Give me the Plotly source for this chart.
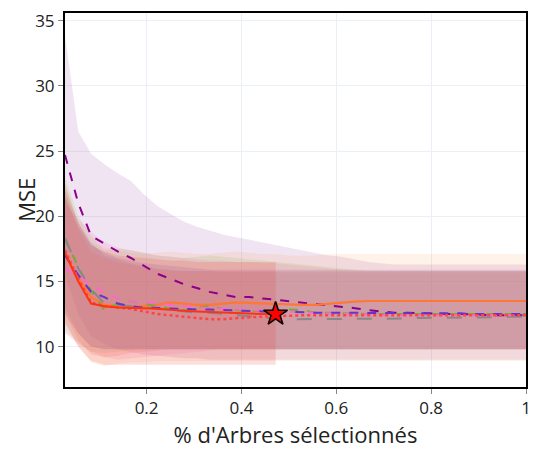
import plotly.graph_objects as go

x = [0.028, 0.056, 0.083, 0.111, 0.139, 0.167, 0.194, 0.222, 0.25, 0.278, 0.306, 0.333,
     0.361, 0.389, 0.417, 0.444, 0.472, 0.5, 0.528, 0.556, 0.583, 0.611, 0.639, 0.667,
     0.694, 0.722, 0.75, 0.778, 0.806, 0.833, 0.861, 0.889, 0.917, 0.944, 0.972, 1.0]

purple_mean = [24.7, 21.0, 18.5, 17.9, 17.3, 16.8, 16.2, 15.6, 15.2, 14.8, 14.5, 14.2,
               14.0, 13.8, 13.8, 13.7, 13.6, 13.5, 13.4, 13.3, 13.2, 13.1, 12.95, 12.8,
               12.7, 12.6, 12.6, 12.55, 12.5, 12.5, 12.5, 12.45, 12.45, 12.4, 12.4, 12.4]
purple_up = [33.9, 26.5, 24.8, 24.0, 23.3, 22.7, 21.7, 20.8, 20.2, 19.6, 19.2, 18.9,
             18.6, 18.4, 18.2, 18.0, 17.8, 17.6, 17.4, 17.2, 17.0, 16.9, 16.7, 16.5,
             16.4, 16.3, 16.3, 16.3, 16.3, 16.3, 16.3, 16.3, 16.3, 16.3, 16.3, 16.3]
purple_lo = [15.5, 12.5, 10.8, 10.2, 9.8, 9.6, 9.4, 9.3, 9.2, 9.1, 9.1, 9.0,
             9.0, 9.0, 9.0, 9.0, 9.0, 9.0, 9.0, 9.0, 9.0, 9.0, 9.0, 9.0,
             9.0, 9.0, 9.0, 9.0, 9.0, 9.0, 9.0, 9.0, 9.0, 9.0, 9.0, 9.0]

orange_mean = [17.0, 15.3, 13.8, 13.2, 13.1, 13.0, 13.1, 13.2, 13.4, 13.3, 13.2, 13.2,
               13.3, 13.4, 13.35, 13.3, 13.3, 13.25, 13.2, 13.2, 13.3, 13.4, 13.45, 13.5,
               13.5, 13.5, 13.5, 13.5, 13.5, 13.5, 13.5, 13.5, 13.5, 13.5, 13.5, 13.5]
orange_up = [22.0, 19.5, 18.0, 17.6, 17.4, 17.2, 17.1, 17.2, 17.3, 17.2, 17.1, 17.1,
             17.2, 17.3, 17.2, 17.1, 17.1, 17.0, 17.0, 17.0, 17.1, 17.1, 17.1, 17.1,
             17.1, 17.1, 17.1, 17.1, 17.1, 17.1, 17.1, 17.1, 17.1, 17.1, 17.1, 17.1]
orange_lo = [12.0, 10.0, 8.8, 8.5, 8.7, 8.8, 8.8, 8.9, 8.9, 8.9, 8.9, 8.9,
             8.9, 8.9, 8.9, 8.9, 8.9, 8.9, 8.9, 8.9, 8.9, 8.9, 8.9, 8.9,
             8.9, 8.9, 8.9, 8.9, 8.9, 8.9, 8.9, 8.9, 8.9, 8.9, 8.9, 8.9]

red_mean = [17.2, 15.0, 13.3, 13.1, 13.0, 13.0, 12.95, 12.9, 12.8, 12.75, 12.7, 12.65,
            12.6, 12.6, 12.55, 12.5, 12.5]
red_up = [22.5, 19.5, 17.8, 17.3, 17.0, 16.9, 16.8, 16.7, 16.6, 16.6, 16.5, 16.5,
          16.5, 16.5, 16.5, 16.5, 16.5]
red_lo = [11.8, 10.0, 8.9, 8.6, 8.6, 8.6, 8.6, 8.6, 8.6, 8.6, 8.6, 8.6,
          8.6, 8.6, 8.6, 8.6, 8.6]

tomato_mean = [17.4, 15.2, 13.4, 13.1, 13.0, 12.9, 12.7, 12.5, 12.4, 12.3, 12.2, 12.1,
               12.1, 12.2, 12.25, 12.3, 12.35, 12.4, 12.4, 12.4, 12.4, 12.4, 12.4, 12.4,
               12.4, 12.4, 12.4, 12.4, 12.4, 12.4, 12.4, 12.4, 12.4, 12.4, 12.4, 12.4]
tomato_up = [21.5, 19.0, 17.3, 16.8, 16.5, 16.3, 16.1, 15.9, 15.8, 15.8, 15.8, 15.8,
             15.8, 15.8, 15.8, 15.8, 15.8, 15.8, 15.8, 15.8, 15.8, 15.8, 15.8, 15.8,
             15.8, 15.8, 15.8, 15.8, 15.8, 15.8, 15.8, 15.8, 15.8, 15.8, 15.8, 15.8]
tomato_lo = [12.5, 10.5, 9.4, 9.2, 9.3, 9.5, 9.6, 9.7, 9.8, 9.8, 9.8, 9.8,
             9.8, 9.8, 9.8, 9.8, 9.8, 9.8, 9.8, 9.8, 9.8, 9.8, 9.8, 9.8,
             9.8, 9.8, 9.8, 9.8, 9.8, 9.8, 9.8, 9.8, 9.8, 9.8, 9.8, 9.8]

green_mean = [18.3, 16.1, 14.3, 12.8, 13.3, 13.5, 13.3, 13.1, 12.9, 12.8, 13.0, 13.1,
              12.9, 12.8, 12.7, 12.75, 12.8, 12.85, 12.8, 12.6, 12.6, 12.55, 12.55, 12.5,
              12.5, 12.5, 12.5, 12.5, 12.5, 12.5, 12.5, 12.5, 12.5, 12.5, 12.5, 12.5]
green_up = [23.0, 20.0, 18.5, 17.4, 17.5, 17.4, 17.2, 17.0, 16.9, 16.8, 16.9, 17.0,
            16.9, 16.8, 16.7, 16.6, 16.5, 16.4, 16.3, 16.2, 16.1, 16.0, 15.9, 15.8,
            15.8, 15.8, 15.8, 15.8, 15.8, 15.8, 15.8, 15.8, 15.8, 15.8, 15.8, 15.8]
green_lo = [11.2, 10.3, 9.6, 9.5, 9.6, 9.7, 9.8, 9.8, 9.8, 9.8, 9.8, 9.8,
            9.8, 9.8, 9.8, 9.8, 9.8, 9.8, 9.8, 9.8, 9.8, 9.8, 9.8, 9.8,
            9.8, 9.8, 9.8, 9.8, 9.8, 9.8, 9.8, 9.8, 9.8, 9.8, 9.8, 9.8]

gray_mean = [18.3, 16.0, 14.4, 13.3, 13.2, 13.1, 13.0, 12.9, 12.8, 12.7, 12.6, 12.6,
             12.5, 12.4, 12.3, 12.2, 12.15, 12.1, 12.1, 12.1, 12.1, 12.1, 12.1, 12.1,
             12.1, 12.1, 12.15, 12.2, 12.2, 12.2, 12.2, 12.2, 12.25, 12.25, 12.3, 12.3]
gray_up = [22.0, 19.5, 18.0, 17.0, 16.7, 16.4, 16.2, 16.0, 15.9, 15.8, 15.8, 15.8,
           15.7, 15.7, 15.7, 15.7, 15.7, 15.7, 15.7, 15.7, 15.7, 15.7, 15.7, 15.7,
           15.7, 15.7, 15.7, 15.7, 15.7, 15.7, 15.7, 15.7, 15.7, 15.7, 15.7, 15.7]
gray_lo = [13.0, 11.0, 10.0, 9.8, 9.8, 9.8, 9.8, 9.8, 9.8, 9.8, 9.8, 9.8,
           9.8, 9.8, 9.8, 9.8, 9.8, 9.8, 9.8, 9.8, 9.8, 9.8, 9.8, 9.8,
           9.8, 9.8, 9.8, 9.8, 9.8, 9.8, 9.8, 9.8, 9.8, 9.8, 9.8, 9.8]

pink_mean = [16.0, 15.4, 14.8, 14.1, 13.7, 13.5, 13.4, 13.3, 13.2, 13.1, 13.0, 12.95,
             12.9, 12.85, 12.8, 12.75, 12.7, 12.65, 12.6, 12.6, 12.55, 12.5, 12.5, 12.45,
             12.45, 12.4, 12.4, 12.4, 12.35, 12.35, 12.4, 12.4, 12.4, 12.4, 12.4, 12.4]
pink_up = [21.0, 19.8, 18.8, 18.0, 17.6, 17.4, 17.2, 17.0, 16.9, 16.8, 16.7, 16.6,
           16.6, 16.5, 16.5, 16.4, 16.4, 16.3, 16.2, 16.1, 16.0, 15.9, 15.8, 15.8,
           15.8, 15.8, 15.8, 15.8, 15.8, 15.8, 15.8, 15.8, 15.8, 15.8, 15.8, 15.8]
pink_lo = [11.0, 10.2, 9.6, 9.2, 9.0, 9.1, 9.2, 9.3, 9.4, 9.5, 9.6, 9.7,
           9.8, 9.8, 9.8, 9.8, 9.8, 9.8, 9.8, 9.8, 9.8, 9.8, 9.8, 9.8,
           9.8, 9.8, 9.8, 9.8, 9.8, 9.8, 9.8, 9.8, 9.8, 9.8, 9.8, 9.8]

violet_mean = [17.0, 15.5, 14.2, 13.8, 13.3, 13.1, 13.0, 12.95, 12.9, 12.9, 12.85, 12.85,
               12.8, 12.8, 12.75, 12.7, 12.7, 12.65, 12.65, 12.6, 12.6, 12.6, 12.6, 12.6,
               12.55, 12.55, 12.55, 12.55, 12.55, 12.55, 12.55, 12.5, 12.5, 12.5, 12.5, 12.5]
violet_up = [21.5, 19.2, 17.8, 17.2, 16.8, 16.6, 16.4, 16.3, 16.2, 16.1, 16.0, 15.9,
             15.9, 15.9, 15.9, 15.9, 15.9, 15.9, 15.9, 15.9, 15.9, 15.9, 15.9, 15.9,
             15.9, 15.9, 15.9, 15.9, 15.9, 15.9, 15.9, 15.9, 15.9, 15.9, 15.9, 15.9]
violet_lo = [12.5, 11.0, 10.0, 9.8, 9.8, 9.8, 9.8, 9.8, 9.8, 9.8, 9.8, 9.8,
             9.8, 9.8, 9.8, 9.8, 9.8, 9.8, 9.8, 9.8, 9.8, 9.8, 9.8, 9.8,
             9.8, 9.8, 9.8, 9.8, 9.8, 9.8, 9.8, 9.8, 9.8, 9.8, 9.8, 9.8]

star_x = [0.472]
star_y = [12.5]

series = [
    # name, mean, up, lo, line colour, fill, dash, width
    ("purple", purple_mean, purple_up, purple_lo, "#8B008B", "rgba(140,30,150,0.12)", "dash", 2),
    ("orange", orange_mean, orange_up, orange_lo, "#FF7733", "rgba(255,130,30,0.10)", "solid", 2.2),
    ("green", green_mean, green_up, green_lo, "#77AA33", "rgba(140,190,80,0.17)", "dash", 2),
    ("gray", gray_mean, gray_up, gray_lo, "#888888", "rgba(135,135,135,0.17)", "longdash", 2),
    ("pink", pink_mean, pink_up, pink_lo, "#FF66CC", "rgba(250,110,175,0.17)", "dash", 2),
    ("violet", violet_mean, violet_up, violet_lo, "#6633CC", "rgba(125,85,190,0.17)", "dash", 2),
    ("tomato", tomato_mean, tomato_up, tomato_lo, "#FF4444", "rgba(250,105,80,0.17)", "dot", 2.5),
    ("red", red_mean, red_up, red_lo, "#FF3311", "rgba(235,60,50,0.17)", "solid", 2),
]

fig = go.Figure()
for name, mean, up, lo, col, fill, dash, w in series:
    xs = x[:len(mean)]
    fig.add_trace(go.Scatter(x=xs, y=up, mode="lines", line=dict(width=0),
                             showlegend=False, hoverinfo="skip"))
    fig.add_trace(go.Scatter(x=xs, y=lo, mode="lines", line=dict(width=0),
                             fill="tonexty", fillcolor=fill,
                             showlegend=False, hoverinfo="skip"))
for name, mean, up, lo, col, fill, dash, w in series:
    xs = x[:len(mean)]
    fig.add_trace(go.Scatter(x=xs, y=mean, mode="lines", name=name,
                             line=dict(color=col, dash=dash, width=w),
                             showlegend=False))

fig.add_trace(go.Scatter(x=star_x, y=star_y, mode="markers", showlegend=False,
                         marker=dict(symbol="star", size=18, color="red",
                                     line=dict(color="black", width=1.5))))

axis_common = dict(showline=True, linecolor="black", linewidth=2, mirror=True,
                   showgrid=True, gridcolor="#EBF0F8", zeroline=False,
                   ticks="outside", tickcolor="#888", ticklen=5,
                   tickfont=dict(size=17, color="#222"))
fig.update_layout(
    width=540, height=457,
    template="plotly_white",
    font=dict(family="Open Sans, Noto Sans, sans-serif", color="#222"),
    margin=dict(l=65, r=9, t=12, b=70),
    plot_bgcolor="white", paper_bgcolor="white",
    showlegend=False,
    annotations=[dict(text="MSE", xref="paper", yref="paper", x=-0.085, y=0.5,
                      xanchor="center", yanchor="middle", textangle=-90,
                      showarrow=False, font=dict(size=22, color="#222"))],
)
fig.update_xaxes(range=[0.028, 1.0], tickvals=[0.2, 0.4, 0.6, 0.8, 1.0],
                 ticktext=["0.2", "0.4", "0.6", "0.8", "1"],
                 title=dict(text="% d'Arbres sélectionnés", font=dict(size=22, color="#222"), standoff=8),
                 **axis_common)
fig.update_yaxes(range=[6.9, 35.6], tickvals=[10, 15, 20, 25, 30, 35],
                 **axis_common)

fig.write_html("out.html")
